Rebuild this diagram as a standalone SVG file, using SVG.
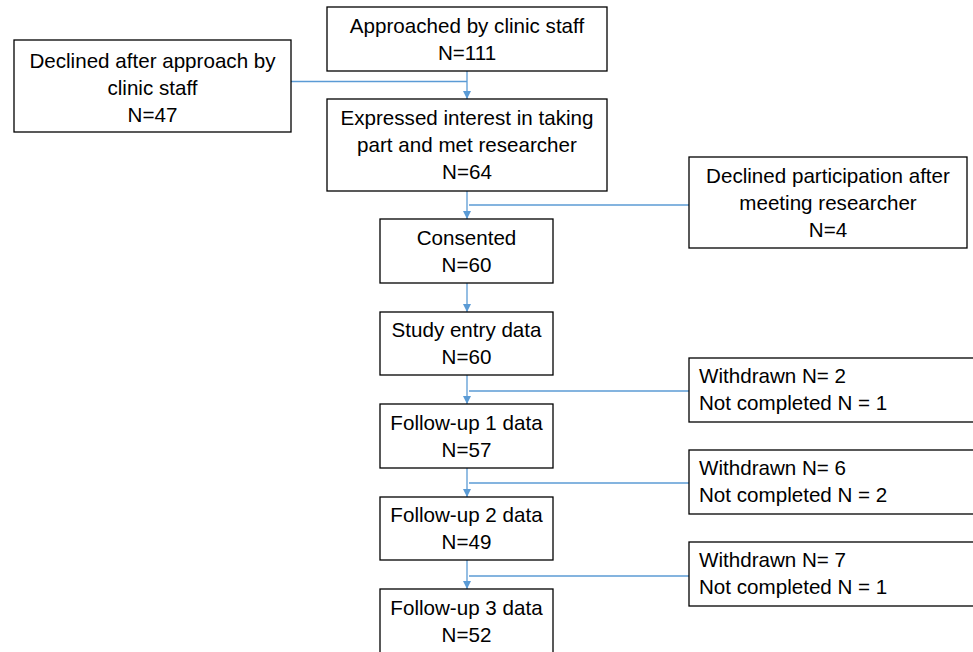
<svg xmlns="http://www.w3.org/2000/svg" width="973" height="652" viewBox="0 0 973 652">
<style>
.box{fill:#fff;stroke:#000;stroke-width:1.3}
.t{font-family:"Liberation Sans",Arial,sans-serif;font-size:20.6px;fill:#000}
.c{text-anchor:middle}
.ln{fill:none;stroke:#5B9BD5;stroke-width:1.3}
</style>
<defs>
<marker id="ah" viewBox="0 0 10 10" refX="10" refY="5" markerWidth="8" markerHeight="8" markerUnits="userSpaceOnUse" orient="auto">
<path d="M0,0 L10,5 L0,10 z" fill="#5B9BD5"/>
</marker>
</defs>
<rect width="973" height="652" fill="#fff"/>
<g id="connectors">
<path class="ln" d="M467,71 V99" marker-end="url(#ah)"/>
<path class="ln" d="M291,81.5 H467"/>
<path class="ln" d="M467,191 V219" marker-end="url(#ah)"/>
<path class="ln" d="M469,205 H689"/>
<path class="ln" d="M467,283 V312" marker-end="url(#ah)"/>
<path class="ln" d="M467,375 V404" marker-end="url(#ah)"/>
<path class="ln" d="M469,391 H689"/>
<path class="ln" d="M467,468 V497" marker-end="url(#ah)"/>
<path class="ln" d="M469,483 H689"/>
<path class="ln" d="M467,560 V589" marker-end="url(#ah)"/>
<path class="ln" d="M469,576 H689"/>
</g>
<g id="approached">
<rect class="box" x="327" y="7" width="280" height="64"/>
<text class="t c" x="467" y="33">Approached by clinic staff</text>
<text class="t c" x="467" y="60">N=111</text>
</g>
<g id="declined-approach">
<rect class="box" x="14" y="40" width="277" height="92"/>
<text class="t c" x="152.5" y="68">Declined after approach by</text>
<text class="t c" x="152.5" y="95">clinic staff</text>
<text class="t c" x="152.5" y="122">N=47</text>
</g>
<g id="interest">
<rect class="box" x="327" y="99" width="280" height="92"/>
<text class="t c" x="467" y="125">Expressed interest in taking</text>
<text class="t c" x="467" y="152">part and met researcher</text>
<text class="t c" x="467" y="179">N=64</text>
</g>
<g id="declined-participation">
<rect class="box" x="689" y="157" width="278" height="91"/>
<text class="t c" x="828" y="183">Declined participation after</text>
<text class="t c" x="828" y="210">meeting researcher</text>
<text class="t c" x="828" y="237">N=4</text>
</g>
<g id="consented">
<rect class="box" x="380" y="219" width="173" height="64"/>
<text class="t c" x="466.5" y="245">Consented</text>
<text class="t c" x="466.5" y="272">N=60</text>
</g>
<g id="study-entry">
<rect class="box" x="380" y="312" width="173" height="63"/>
<text class="t c" x="466.5" y="337">Study entry data</text>
<text class="t c" x="466.5" y="364">N=60</text>
</g>
<g id="followup1">
<rect class="box" x="380" y="404" width="173" height="64"/>
<text class="t c" x="466.5" y="430">Follow-up 1 data</text>
<text class="t c" x="466.5" y="457">N=57</text>
</g>
<g id="followup2">
<rect class="box" x="380" y="497" width="173" height="63"/>
<text class="t c" x="466.5" y="522">Follow-up 2 data</text>
<text class="t c" x="466.5" y="549">N=49</text>
</g>
<g id="followup3">
<rect class="box" x="380" y="589" width="173" height="66"/>
<text class="t c" x="466.5" y="615">Follow-up 3 data</text>
<text class="t c" x="466.5" y="642">N=52</text>
</g>
<g id="withdrawn1">
<rect class="box" x="689" y="358" width="300" height="64"/>
<text class="t" x="699" y="383">Withdrawn N= 2</text>
<text class="t" x="699" y="410">Not completed N = 1</text>
</g>
<g id="withdrawn2">
<rect class="box" x="689" y="450" width="300" height="64"/>
<text class="t" x="699" y="475">Withdrawn N= 6</text>
<text class="t" x="699" y="502">Not completed N = 2</text>
</g>
<g id="withdrawn3">
<rect class="box" x="689" y="542" width="300" height="64"/>
<text class="t" x="699" y="567">Withdrawn N= 7</text>
<text class="t" x="699" y="594">Not completed N = 1</text>
</g>
</svg>
